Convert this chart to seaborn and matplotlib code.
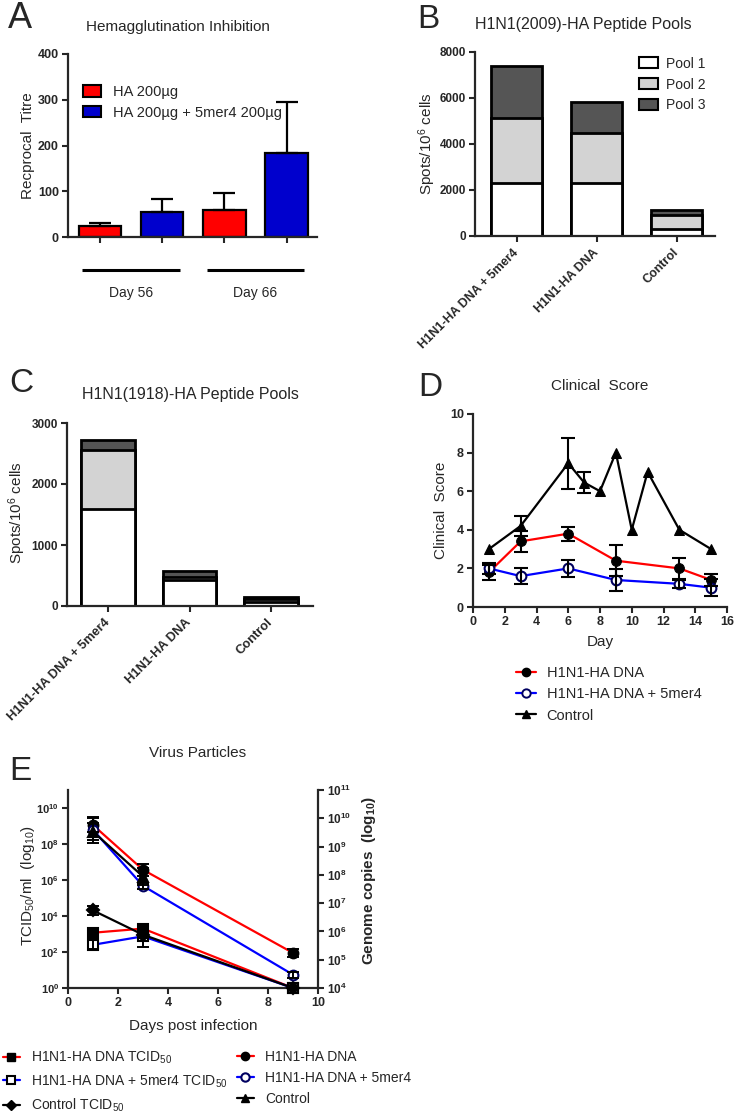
import numpy as np
import pandas as pd
import matplotlib
matplotlib.use('Agg')
import matplotlib.pyplot as plt
import matplotlib.transforms as mtrans
import seaborn as sns
from matplotlib.patches import Patch
from matplotlib.lines import Line2D

# ---------------- data ----------------
# A: Hemagglutination inhibition
hi_days = ['Day 56', 'Day 56', 'Day 66', 'Day 66']
hi_groups = ['HA 200µg', 'HA 200µg + 5mer4 200µg', 'HA 200µg', 'HA 200µg + 5mer4 200µg']
hi_titre = [23, 55, 58, 183]
hi_sem = [8.5, 29, 38.5, 113]

# B / C: ELISpot peptide pools
elispot_groups = ['H1N1-HA DNA + 5mer4', 'H1N1-HA DNA', 'Control']
pool_names = ['Pool 1', 'Pool 2', 'Pool 3']
b_pool1 = [2300, 2300, 290]
b_pool2 = [2830, 2170, 640]
b_pool3 = [2260, 1370, 200]
c_pool1 = [1590, 420, 60]
c_pool2 = [970, 60, 50]
c_pool3 = [156, 90, 45]

# D: clinical score
d_days = [1, 3, 6, 9, 13, 15]
d_dna = [1.8, 3.4, 3.8, 2.4, 2.0, 1.4]
d_dna_err = [0.4, 0.55, 0.37, 0.8, 0.56, 0.3]
d_mer = [2.0, 1.6, 2.0, 1.4, 1.2, 1.0]
d_mer_err = [0.3, 0.4, 0.45, 0.56, 0.2, 0.43]
d_ctrl_days = [1, 3, 6, 7, 8, 9, 10, 11, 13, 15]
d_ctrl = [3.0, 4.2, 7.45, 6.45, 6.0, 8.0, 4.0, 7.0, 4.0, 3.0]
d_ctrl_err = [np.nan, 0.5, 1.33, 0.55, np.nan, np.nan, np.nan, np.nan, np.nan, np.nan]

# E: virus particles (log10 values)
e_days = [1, 3, 9]
tcid_dna = [3.07, 3.3, 0.0]
tcid_dna_err = [0.15, 0.25, 0.0]
tcid_mer = [2.4, 2.87, 0.0]
tcid_mer_err = [0.25, 0.6, 0.0]
tcid_ctrl = [4.31, 2.96, 0.0]
tcid_ctrl_err = [0.25, 0.2, 0.0]
gen_dna = [9.76, 8.18, 5.24]
gen_dna_err = [0.26, 0.22, 0.14]
gen_mer = [9.59, 7.61, 4.47]
gen_mer_err = [0.47, 0.1, 0.1]
gen_ctrl = [9.53, 7.94, np.nan]
gen_ctrl_err = [0.3, 0.3, np.nan]

# ---------------- style ----------------
sns.set_style('ticks')
plt.rcParams['font.family'] = ['Liberation Sans', 'DejaVu Sans']
plt.rcParams['mathtext.fontset'] = 'custom'
plt.rcParams['mathtext.rm'] = 'Liberation Sans'
plt.rcParams['mathtext.it'] = 'Liberation Sans:italic'
plt.rcParams['mathtext.bf'] = 'Liberation Sans:bold'
plt.rcParams['axes.linewidth'] = 1.6
plt.rcParams['xtick.major.width'] = 1.5
plt.rcParams['ytick.major.width'] = 1.5
plt.rcParams['xtick.major.size'] = 4.5
plt.rcParams['ytick.major.size'] = 4.5
plt.rcParams['xtick.major.pad'] = 2
plt.rcParams['ytick.major.pad'] = 2

RED = '#FF0000'
BLUE_BAR = '#0000CD'
BLUE = '#0000FF'
P1, P2, P3 = '#FFFFFF', '#D3D3D3', '#555555'
FS_TICK = 8.5
FS_LAB = 11
FS_TITLE = 11
FS_LEG = 10
FS_LET = 24

W, H = 738, 1116
fig = plt.figure(figsize=(W / 100, H / 100), dpi=100)


def add_ax(l, t, r, b):
    return fig.add_axes([l / W, 1 - b / H, (r - l) / W, (b - t) / H])


def ftext(x, y, s, **kw):
    kw.setdefault('ha', 'center')
    kw.setdefault('va', 'center')
    fig.text(x / W, 1 - y / H, s, **kw)


def bold_yticks(ax, ticks, labels=None, size=FS_TICK):
    if labels is None:
        labels = [str(t) for t in ticks]
    ax.set_yticks(ticks, labels=labels, fontweight='bold', fontsize=size)


# ---------------- A ----------------
axA = add_ax(68, 54, 317, 237)
dfA = pd.DataFrame({'day': hi_days, 'group': hi_groups, 'titre': hi_titre})
grp_order = ['HA 200µg', 'HA 200µg + 5mer4 200µg']
sns.barplot(data=dfA, x='day', y='titre', hue='group', hue_order=grp_order,
            palette=[RED, BLUE_BAR], saturation=1, width=1.0, gap=0.32,
            errorbar=None, edgecolor='black', linewidth=1.6, legend=False, ax=axA)
centers = []
for p in axA.patches:
    h = p.get_height()
    xc = p.get_x() + p.get_width() / 2
    centers.append(xc)
    k = int(np.argmin([abs(h - v) for v in hi_titre]))
    axA.errorbar([xc], [h], yerr=[[0], [hi_sem[k]]], fmt='none', ecolor='black',
                 elinewidth=1.6, capsize=8, capthick=1.6, zorder=1)
axA.set_xticks(sorted(centers), labels=[''] * len(centers))
axA.set_xlim(-0.506, 1.494)
axA.set_ylim(0, 400)
bold_yticks(axA, [0, 100, 200, 300, 400], size=9)
axA.set_xlabel('')
axA.set_ylabel('Recprocal  Titre', fontsize=FS_LAB)
axA.yaxis.set_label_coords(-0.133, 0.5)
sns.despine(ax=axA)
trA = mtrans.blended_transform_factory(axA.transData, axA.transAxes)
for c, lab in zip([0, 1], ['Day 56', 'Day 66']):
    axA.plot([c - 0.39, c + 0.39], [-0.18, -0.18], transform=trA, clip_on=False,
             color='black', lw=2.2, solid_capstyle='butt')
    axA.text(c, -0.305, lab, transform=trA, ha='center', va='center', fontsize=10)
axA.legend(handles=[Patch(fc=RED, ec='black', lw=1.5, label=grp_order[0]),
                    Patch(fc=BLUE_BAR, ec='black', lw=1.5, label=grp_order[1])],
           loc='upper left', bbox_to_anchor=(0.06, 0.83), frameon=False,
           borderaxespad=0, borderpad=0, handlelength=1.25, handleheight=0.8,
           handletextpad=0.8, labelspacing=0.45, fontsize=10.5)


# ---------------- B & C ----------------
def stacked(ax, p1, p2, p3, width, ymax, yticks, xfs):
    df = pd.DataFrame({'group': elispot_groups, 'p1': p1, 'p2': p2, 'p3': p3})
    df['top1'] = df['p1']
    df['top2'] = df['p1'] + df['p2']
    df['top3'] = df['top2'] + df['p3']
    for col, color in [('top3', P3), ('top2', P2), ('top1', P1)]:
        sns.barplot(data=df, x='group', y=col, color=color, saturation=1,
                    width=width, edgecolor='black', linewidth=2.0,
                    errorbar=None, ax=ax)
    ax.set_ylim(0, ymax)
    bold_yticks(ax, yticks)
    ax.set_xticks(range(3), labels=elispot_groups, rotation=45, ha='right',
                  va='center', rotation_mode='anchor', fontweight='bold',
                  fontsize=xfs)
    ax.tick_params(axis='x', pad=6)
    ax.set_xlabel('')
    ax.set_ylabel('Spots/10$^6$ cells', fontsize=FS_LAB)
    sns.despine(ax=ax)


axB = add_ax(475, 52, 715, 236)
stacked(axB, b_pool1, b_pool2, b_pool3, 0.64, 8000, [0, 2000, 4000, 6000, 8000], 9)
axB.set_xlim(-0.52, 2.48)
axB.yaxis.set_label_coords(-0.154, 0.5)
axB.legend(handles=[Patch(fc=c, ec='black', lw=1.5, label=n)
                    for c, n in zip([P1, P2, P3], pool_names)],
           loc='upper left', bbox_to_anchor=(0.685, 0.975), frameon=False,
           borderaxespad=0, borderpad=0, handlelength=1.35, handleheight=0.85,
           handletextpad=0.6, labelspacing=0.5, fontsize=10)

axC = add_ax(67, 423, 313, 606)
stacked(axC, c_pool1, c_pool2, c_pool3, 0.66, 3000, [0, 1000, 2000, 3000], 9.3)
axC.set_xlim(-0.503, 2.515)
axC.yaxis.set_label_coords(-0.159, 0.51)

# ---------------- D ----------------
axD = add_ax(473, 414, 727, 607)
sns.lineplot(x=d_days, y=d_dna, color=RED, marker='o', markersize=7,
             markerfacecolor='black', markeredgecolor='black', linewidth=1.6,
             errorbar=None, ax=axD, zorder=3)
sns.lineplot(x=d_days, y=d_mer, color=BLUE, marker='o', markersize=7,
             markerfacecolor='white', markeredgecolor='#000060', markeredgewidth=1.5,
             linewidth=1.6, errorbar=None, ax=axD, zorder=3)
sns.lineplot(x=d_ctrl_days, y=d_ctrl, color='black', marker='^', markersize=7,
             markerfacecolor='black', markeredgecolor='black', linewidth=1.6,
             errorbar=None, ax=axD, zorder=3)
for xs, ys, es in [(d_days, d_dna, d_dna_err), (d_days, d_mer, d_mer_err),
                   (d_ctrl_days, d_ctrl, d_ctrl_err)]:
    xs, ys, es = np.array(xs, float), np.array(ys, float), np.array(es, float)
    m = ~np.isnan(es)
    axD.errorbar(xs[m], ys[m], yerr=es[m], fmt='none', ecolor='black',
                 elinewidth=1.5, capsize=5, capthick=1.5, zorder=4)
axD.set_xlim(0, 16)
axD.set_ylim(0, 10)
axD.set_xticks(range(0, 17, 2), labels=[str(v) for v in range(0, 17, 2)],
               fontweight='bold', fontsize=9)
bold_yticks(axD, list(range(0, 11, 2)), size=9)
axD.set_xlabel('Day', fontsize=FS_LAB)
axD.set_ylabel('Clinical  Score', fontsize=FS_LAB)
axD.xaxis.set_label_coords(0.5, -0.145)
axD.yaxis.set_label_coords(-0.098, 0.5)
sns.despine(ax=axD)
fig.legend(handles=[
    Line2D([0], [0], color=RED, marker='o', mfc='black', mec='black', ms=6, lw=1.6),
    Line2D([0], [0], color=BLUE, marker='o', mfc='white', mec='#000060', mew=1.4, ms=6, lw=1.6),
    Line2D([0], [0], color='black', marker='^', mfc='black', mec='black', ms=6, lw=1.6)],
    labels=['H1N1-HA DNA', 'H1N1-HA DNA + 5mer4', 'Control'],
    loc='upper left', bbox_to_anchor=(516 / W, 1 - 666 / H), frameon=False,
    borderaxespad=0, borderpad=0, handlelength=1.4, handletextpad=0.7,
    labelspacing=0.5, fontsize=10.5)

# ---------------- E ----------------
axE = add_ax(68, 790, 318, 988)
axE2 = axE.twinx()
for ax in (axE, axE2):
    ax.set_yscale('log')
axE.set_ylim(1, 1e11)
axE2.set_ylim(1e4, 1e11)


def log_series(ax, ys, es, color, marker, mfc, mec, ms):
    ys = np.array(ys, float)
    es = np.array(es, float)
    xs = np.array(e_days, float)
    lin = 10 ** ys
    m = ~np.isnan(ys)
    sns.lineplot(x=xs[m], y=lin[m], color=color, marker=marker, markersize=ms,
                 markerfacecolor=mfc, markeredgecolor=mec, markeredgewidth=1.5,
                 linewidth=1.6, errorbar=None, ax=ax, zorder=3, clip_on=False)
    me = m & (es > 0)
    lo = lin[me] - 10 ** (ys[me] - es[me])
    hi = 10 ** (ys[me] + es[me]) - lin[me]
    ax.errorbar(xs[me], lin[me], yerr=[lo, hi], fmt='none', ecolor='black',
                elinewidth=1.4, capsize=4, capthick=1.4, zorder=4)


log_series(axE, tcid_dna, tcid_dna_err, RED, 's', 'black', 'black', 7)
log_series(axE, tcid_mer, tcid_mer_err, BLUE, 's', 'white', 'black', 7)
log_series(axE, tcid_ctrl, tcid_ctrl_err, 'black', 'D', 'black', 'black', 6)
log_series(axE2, gen_dna, gen_dna_err, RED, 'o', 'black', 'black', 7)
log_series(axE2, gen_mer, gen_mer_err, BLUE, 'o', 'white', '#000060', 7)
log_series(axE2, gen_ctrl, gen_ctrl_err, 'black', '^', 'black', 'black', 7)

axE.set_xlim(0, 10)
axE.set_xticks(range(0, 11, 2), labels=[str(v) for v in range(0, 11, 2)],
               fontweight='bold', fontsize=9)
left_t = [10.0 ** k for k in range(0, 11, 2)]
axE.set_yticks(left_t, labels=[r'$\mathbf{10^{%d}}$' % k for k in range(0, 11, 2)],
               fontsize=8)
axE.yaxis.set_minor_locator(matplotlib.ticker.NullLocator())
right_t = [10.0 ** k for k in range(4, 12)]
axE2.set_yticks(right_t, labels=[r'$\mathbf{10^{%d}}$' % k for k in range(4, 12)],
                fontsize=8.5)
axE2.yaxis.set_minor_locator(matplotlib.ticker.NullLocator())
axE.spines['top'].set_visible(False)
axE.spines['right'].set_visible(False)
for s in ('top', 'left', 'bottom'):
    axE2.spines[s].set_visible(False)
axE.set_xlabel('Days post infection', fontsize=FS_LAB)
axE.xaxis.set_label_coords(0.5, -0.155)
axE.set_ylabel(r'TCID$_{50}$/ml  (log$_{10}$)', fontsize=FS_LAB)
axE.yaxis.set_label_coords(-0.125, 0.515)
axE2.set_ylabel(r'Genome copies  (log$_{\mathbf{10}}$)', fontsize=FS_LAB, fontweight='bold')
axE2.yaxis.set_label_coords(1.168, 0.54)

leg_kw = dict(loc='upper left', frameon=False, borderaxespad=0, borderpad=0,
              handlelength=1.2, handletextpad=0.8, labelspacing=0.5, fontsize=10)
fig.legend(handles=[
    Line2D([0], [0], color=RED, marker='s', mfc='black', mec='black', ms=6, lw=1.6),
    Line2D([0], [0], color=BLUE, marker='s', mfc='white', mec='black', mew=1.5, ms=6, lw=1.6),
    Line2D([0], [0], color='black', marker='D', mfc='black', mec='black', ms=5, lw=1.6)],
    labels=['H1N1-HA DNA TCID$_{50}$', 'H1N1-HA DNA + 5mer4 TCID$_{50}$', 'Control TCID$_{50}$'],
    bbox_to_anchor=(3 / W, 1 - 1050 / H), **leg_kw)
fig.legend(handles=[
    Line2D([0], [0], color=RED, marker='o', mfc='black', mec='black', ms=6, lw=1.6),
    Line2D([0], [0], color=BLUE, marker='o', mfc='white', mec='#000060', mew=1.5, ms=6, lw=1.6),
    Line2D([0], [0], color='black', marker='^', mfc='black', mec='black', ms=6, lw=1.6)],
    labels=['H1N1-HA DNA', 'H1N1-HA DNA + 5mer4', 'Control'],
    bbox_to_anchor=(237 / W, 1 - 1050 / H), **leg_kw)

# ---------------- titles & letters ----------------
ftext(178, 27, 'Hemagglutination Inhibition', fontsize=FS_TITLE)
ftext(583, 24, 'H1N1(2009)-HA Peptide Pools', fontsize=FS_TITLE + 0.5)
ftext(190, 395, 'H1N1(1918)-HA Peptide Pools', fontsize=FS_TITLE + 0.5)
ftext(600, 386, 'Clinical  Score', fontsize=FS_TITLE)
ftext(198, 753, 'Virus Particles', fontsize=FS_TITLE)
ftext(20, 19, 'A', fontsize=FS_LET + 2)
ftext(428, 19, 'B', fontsize=FS_LET)
ftext(21, 384, 'C', fontsize=FS_LET)
ftext(430, 387, 'D', fontsize=FS_LET)
ftext(20, 771, 'E', fontsize=FS_LET)

fig.savefig('out.png', dpi=100)
